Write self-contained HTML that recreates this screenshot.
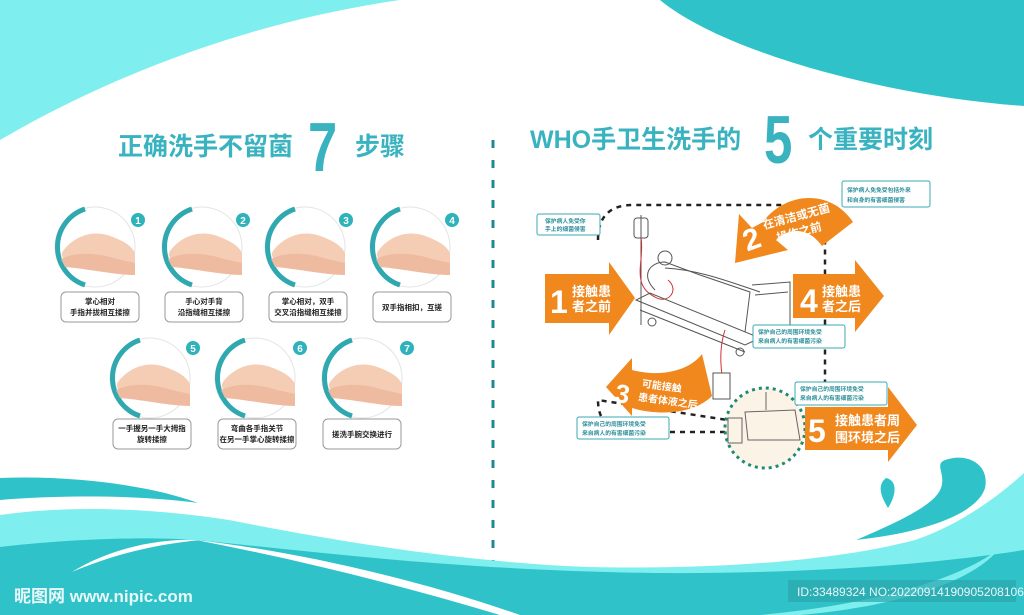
<!DOCTYPE html>
<html><head><meta charset="utf-8"><style>
html,body{margin:0;padding:0;width:1024px;height:615px;overflow:hidden;background:#fff}
svg{display:block}
text{font-family:"Liberation Sans","Noto Sans CJK SC",sans-serif}
</style></head><body>
<svg width="1024" height="615" viewBox="0 0 1024 615" xmlns="http://www.w3.org/2000/svg">
<defs>
<g id="hand"><path d="M-32,4 C-20,-12 0,-18 18,-10 C28,-6 36,-2 40,6 L40,22 C20,22 0,14 -20,14 C-30,14 -36,10 -32,4Z" fill="#f4cdb4"/><path d="M-34,12 C-18,4 4,6 22,12 L40,16 L40,28 C20,28 -6,22 -30,20Z" fill="#eebba0"/></g>
</defs>
<path d="M0,0 L400,0 C260,20 120,70 0,140Z" fill="#7eefee"/>
<path d="M660,0 L1024,0 L1024,106 C880,96 720,50 660,0Z" fill="#2fc3c9"/>
<text x="118" y="155" font-size="25" font-weight="bold" fill="#3ab3c0">正确洗手不留菌</text>
<text x="0" y="0" font-size="70" font-weight="bold" fill="#3ab3c0" transform="translate(308,171) scale(0.75,1)">7</text>
<text x="355" y="155" font-size="25" font-weight="bold" fill="#3ab3c0">步骤</text>
<text x="530" y="148" font-size="25" font-weight="bold" fill="#3ab3c0">WHO手卫生洗手的</text>
<text x="0" y="0" font-size="68" font-weight="bold" fill="#3ab3c0" transform="translate(764,163) scale(0.75,1)">5</text>
<text x="808" y="148" font-size="25" font-weight="bold" fill="#3ab3c0">个重要时刻</text>
<line x1="493" y1="140" x2="493" y2="565" stroke="#1e8a94" stroke-width="3" stroke-dasharray="8,12"/>

<g>
<g transform="translate(95,247)"><circle r="40" fill="none" stroke="#e4e4e4" stroke-width="1"/><path d="M-10,-38 A40,40 0 0 0 -10,38" fill="none" stroke="#2fa8b0" stroke-width="5"/><use href="#hand"/></g>
<g transform="translate(202,247)"><circle r="40" fill="none" stroke="#e4e4e4" stroke-width="1"/><path d="M-10,-38 A40,40 0 0 0 -10,38" fill="none" stroke="#2fa8b0" stroke-width="5"/><use href="#hand"/></g>
<g transform="translate(305,247)"><circle r="40" fill="none" stroke="#e4e4e4" stroke-width="1"/><path d="M-10,-38 A40,40 0 0 0 -10,38" fill="none" stroke="#2fa8b0" stroke-width="5"/><use href="#hand"/></g>
<g transform="translate(410,247)"><circle r="40" fill="none" stroke="#e4e4e4" stroke-width="1"/><path d="M-10,-38 A40,40 0 0 0 -10,38" fill="none" stroke="#2fa8b0" stroke-width="5"/><use href="#hand"/></g>
<g transform="translate(150,378)"><circle r="40" fill="none" stroke="#e4e4e4" stroke-width="1"/><path d="M-10,-38 A40,40 0 0 0 -10,38" fill="none" stroke="#2fa8b0" stroke-width="5"/><use href="#hand"/></g>
<g transform="translate(255,378)"><circle r="40" fill="none" stroke="#e4e4e4" stroke-width="1"/><path d="M-10,-38 A40,40 0 0 0 -10,38" fill="none" stroke="#2fa8b0" stroke-width="5"/><use href="#hand"/></g>
<g transform="translate(362,378)"><circle r="40" fill="none" stroke="#e4e4e4" stroke-width="1"/><path d="M-10,-38 A40,40 0 0 0 -10,38" fill="none" stroke="#2fa8b0" stroke-width="5"/><use href="#hand"/></g>
</g>
<g fill="#2fb3bb" font-size="10" font-weight="bold" text-anchor="middle">
<circle cx="138" cy="220" r="7"/><circle cx="243" cy="220" r="7"/><circle cx="346" cy="220" r="7"/><circle cx="452" cy="220" r="7"/>
<circle cx="193" cy="348" r="7"/><circle cx="300" cy="348" r="7"/><circle cx="407" cy="348" r="7"/>
<g fill="#fff"><text x="138" y="224">1</text><text x="243" y="224">2</text><text x="346" y="224">3</text><text x="452" y="224">4</text><text x="193" y="352">5</text><text x="300" y="352">6</text><text x="407" y="352">7</text></g>
</g>
<g fill="#fff" stroke="#999" stroke-width="1">
<rect x="61" y="292" width="78" height="30" rx="5"/><rect x="165" y="292" width="78" height="30" rx="5"/><rect x="269" y="292" width="78" height="30" rx="5"/><rect x="373" y="292" width="78" height="30" rx="5"/>
<rect x="113" y="419" width="78" height="30" rx="5"/><rect x="218" y="419" width="78" height="30" rx="5"/><rect x="323" y="419" width="78" height="30" rx="5"/>
</g>
<g font-size="7.5" font-weight="bold" fill="#222" text-anchor="middle">
<text x="100" y="304">掌心相对</text><text x="100" y="315">手指并拢相互揉擦</text>
<text x="204" y="304">手心对手背</text><text x="204" y="315">沿指缝相互揉擦</text>
<text x="308" y="304">掌心相对，双手</text><text x="308" y="315">交叉沿指缝相互揉擦</text>
<text x="412" y="310">双手指相扣，互搓</text>
<text x="152" y="431">一手握另一手大拇指</text><text x="152" y="442">旋转揉擦</text>
<text x="257" y="431">弯曲各手指关节</text><text x="257" y="442">在另一手掌心旋转揉擦</text>
<text x="362" y="437">搓洗手腕交换进行</text>
</g>

<path d="M598,240 Q598,205 633,205 L790,205 Q825,205 825,240 L825,400 M805,432 L633,432 Q598,432 598,400 Z" fill="none" stroke="#222" stroke-width="2.5" stroke-dasharray="5,5"/>
<g fill="none" stroke="#555" stroke-width="1">
<line x1="641" y1="215" x2="641" y2="325"/><rect x="634" y="218" width="14" height="20" rx="3"/>
<path d="M641,238 C645,260 630,285 655,297 C668,305 680,290 668,280" stroke="#c33"/>
<path d="M636,300 L745,345 L760,338 L650,293Z"/><path d="M640,310 L745,352"/>
<path d="M655,290 C640,275 650,262 665,262 L700,275 L750,292 L745,332"/>
<path d="M665,268 C700,270 730,282 760,292"/>
<circle cx="665" cy="258" r="7"/><path d="M752,285 L790,282 L790,325 L765,330"/><path d="M755,295 L788,292"/>
<circle cx="652" cy="322" r="4"/><circle cx="740" cy="352" r="4"/>
<path d="M725,330 C720,345 720,360 722,375" stroke="#c33"/>
<rect x="713" y="373" width="17" height="26" fill="#fff"/>
</g>
<g fill="#fff" stroke="#3aa9b3" stroke-width="1">
<rect x="537" y="214" width="63" height="21" rx="2"/><rect x="842" y="181" width="88" height="26" rx="2"/>
<rect x="753" y="325" width="92" height="23" rx="2"/><rect x="577" y="417" width="92" height="22" rx="2"/>
</g>
<g font-size="5.8" fill="#2c8f9a" font-weight="bold">
<text x="545" y="223">保护病人免受你</text><text x="545" y="231">手上的细菌侵害</text>
<text x="847" y="192">保护病人免免受包括外来</text><text x="847" y="202">和自身的有害细菌侵害</text>
<text x="758" y="334">保护自己的周围环境免受</text><text x="758" y="343">来自病人的有害细菌污染</text>
<text x="582" y="426">保护自己的周围环境免受</text><text x="582" y="435">来自病人的有害细菌污染</text>
</g>
<circle cx="765" cy="428" r="40" fill="#fbf3e6" stroke="#1e8a74" stroke-width="3" stroke-dasharray="3,4"/>
<g fill="none" stroke="#666" stroke-width="1"><rect x="728" y="418" width="14" height="25"/><path d="M745,412 L795,410 L800,440 L748,440Z"/><line x1="766" y1="392" x2="766" y2="410"/></g>
<rect x="795" y="382" width="92" height="23" rx="2" fill="#fff" stroke="#3aa9b3"/>
<g font-size="5.8" fill="#2c8f9a" font-weight="bold"><text x="800" y="391">保护自己的周围环境免受</text><text x="800" y="400">来自病人的有害细菌污染</text></g>
<g fill="#f0881e">
<path d="M545,274 L609,274 L609,262 L635,298 L609,335 L609,323 L545,323Z"/>
<path d="M793,274 L855,274 L855,260 L884,296 L855,332 L855,318 L793,318Z"/>
<path d="M805,407 L888,407 L888,387 L917,425 L888,462 L888,450 L805,450Z"/>
<path d="M763,222 C785,192 830,188 853,222 L822,246 C808,226 788,228 776,240 L788,250 L735,263 L739,214 L752,228 Z"/>
<path d="M632,370 C662,378 690,370 702,354 L712,396 C694,414 660,416 632,408 L632,416 L606,387 L632,358Z"/>
</g>
<g fill="#fff" font-weight="bold">
<text x="550" y="313" font-size="32">1</text>
<text x="572" y="296" font-size="13">接触患</text><text x="572" y="311" font-size="13">者之前</text>
<text x="800" y="312" font-size="32">4</text>
<text x="822" y="296" font-size="13">接触患</text><text x="822" y="311" font-size="13">者之后</text>
<text x="808" y="442" font-size="32">5</text>
<text x="835" y="425" font-size="13">接触患者周</text><text x="835" y="442" font-size="13">围环境之后</text>
<text x="742" y="248" font-size="30" transform="rotate(-20 755 235)">2</text>
<text x="762" y="222" font-size="11.5" transform="rotate(-15 790 218)">在清洁或无菌</text>
<text x="776" y="237" font-size="11.5" transform="rotate(-15 795 232)">操作之前</text>
<text x="616" y="404" font-size="26" transform="rotate(10 630 390)">3</text>
<text x="642" y="390" font-size="10" transform="rotate(8 665 385)">可能接触</text>
<text x="638" y="404" font-size="10" transform="rotate(8 665 400)">患者体液之后</text>
</g>

<path d="M0,515 C70,505 150,508 229,520 C330,540 460,562 588,567 C720,570 840,560 915,540 C960,525 1000,495 1024,473 L1024,615 L0,615Z" fill="#7eefee"/>
<path d="M0,478 C70,475 150,485 198,503 C140,495 60,495 0,500Z" fill="#2fc3c9"/>
<path d="M0,547 C60,540 140,536 196,540 C300,550 450,570 653,573 C800,574 930,565 1024,550 L1024,615 L0,615Z" fill="#2fc3c9"/>
<path d="M72,572 C110,548 160,538 200,540 C150,545 110,556 72,572Z" fill="#fff"/>
<path d="M196,540 C300,552 420,580 520,615 L500,615 C400,585 300,560 196,540Z" fill="#fff"/>
<path d="M760,615 C870,605 960,580 1000,548 C970,585 890,607 800,615Z" fill="#7eefee"/>
<path d="M945,460 C968,452 990,465 985,488 C978,512 930,532 856,540 C915,515 940,500 942,484 C944,472 935,464 945,460Z" fill="#2fc3c9"/>
<path d="M886,478 C896,480 898,492 888,508 C882,498 876,486 886,478Z" fill="#2fc3c9"/>
<text x="14" y="602" font-size="17" font-weight="bold" fill="#e8f7f8">昵图网 www.nipic.com</text>
<rect x="788" y="580" width="228" height="22" fill="#2aa6ad" opacity="0.7"/>
<text x="797" y="596" font-size="12" fill="#e8f7f8">ID:33489324 NO:20220914190905208106</text>
</svg>
</body></html>
